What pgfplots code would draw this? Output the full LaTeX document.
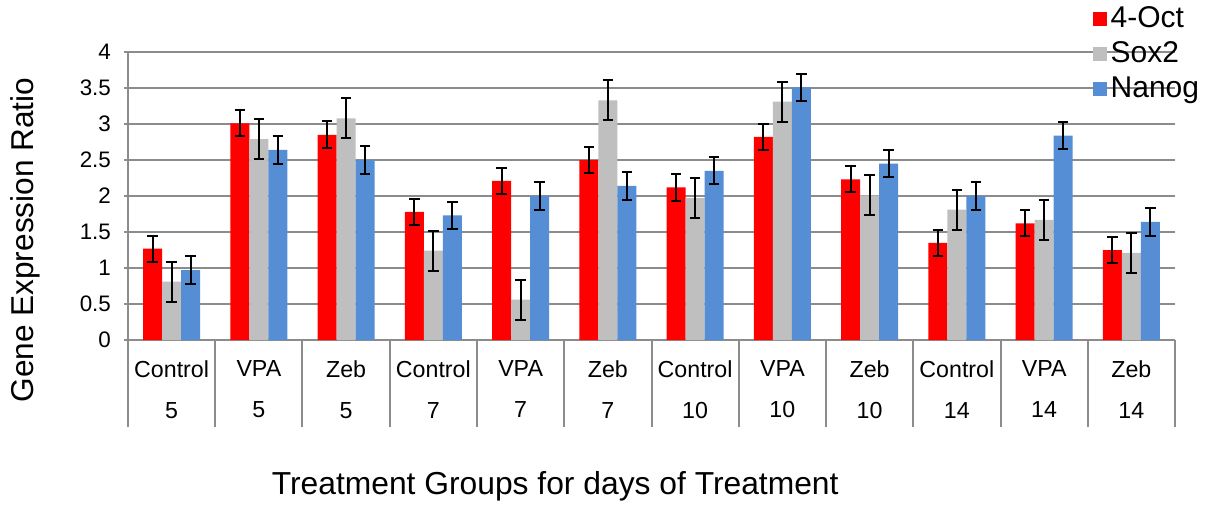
\documentclass[border=0pt]{standalone}
\usepackage{pgfplots}
\pgfplotsset{compat=1.18}
\usepackage{pgfplotstable}
\usepackage{fontspec}
\setmainfont{Liberation Sans}
\definecolor{cred}{HTML}{FF0000}
\definecolor{cgray}{HTML}{BFBFBF}
\definecolor{cblue}{HTML}{558ED5}
\definecolor{cgrid}{HTML}{8C8C8C}
\pgfplotstableread{
x red rede gray graye blue bluee
0 1.27 0.18 0.81 0.28 0.97 0.19
1 3.01 0.18 2.79 0.28 2.64 0.19
2 2.85 0.19 3.08 0.28 2.50 0.19
3 1.78 0.18 1.24 0.28 1.73 0.19
4 2.21 0.18 0.56 0.28 2.00 0.19
5 2.50 0.18 3.33 0.28 2.14 0.19
6 2.12 0.19 1.97 0.28 2.35 0.19
7 2.82 0.18 3.31 0.28 3.51 0.19
8 2.23 0.18 2.01 0.28 2.45 0.19
9 1.35 0.18 1.81 0.28 2.00 0.19
10 1.62 0.18 1.67 0.28 2.84 0.19
11 1.25 0.18 1.21 0.28 1.64 0.19
}\datatable
\begin{document}
\begin{tikzpicture}
\begin{axis}[
  name=ax,
  scale only axis,
  width=523.5pt, height=144pt,
  xmin=-0.5, xmax=11.5, ymin=0, ymax=4,
  ytick={0,0.5,...,4},
  xtick={0,...,11},
  xticklabels={{Control\\5},{VPA\\5},{Zeb\\5},{Control\\7},{VPA\\7},{Zeb\\7},{Control\\10},{VPA\\10},{Zeb\\10},{Control\\14},{VPA\\14},{Zeb\\14}},
  xticklabel style={align=center, font=\fontsize{11.6}{20.5}\selectfont, anchor=north, inner sep=0pt, yshift=-6pt},
  yticklabel style={font=\fontsize{11.2}{13}\selectfont, xshift=-3pt},
  /pgf/number format/assume math mode=true,
  xtick style={draw=none},
  ytick style={draw=cgrid, line width=1pt},
  tick align=outside,
  major tick length=4pt,
  extra x ticks={-0.5,0.5,...,11.5},
  extra x tick labels={},
  extra x tick style={grid=none, major tick length=43.5pt, xtick style={draw=cgrid, line width=1pt}},
  ymajorgrids,
  grid style={cgrid, line width=1pt},
  axis x line=bottom, axis y line=left,
  axis line style={-, cgrid, line width=1pt},
  ylabel={Gene Expression Ratio},
  ylabel style={font=\fontsize{15.8}{18}\selectfont, at={(axis description cs:0,0.347)}, anchor=center, yshift=51.5pt},
  xlabel={Treatment Groups for days of Treatment},
  xlabel style={font=\fontsize{15.9}{18}\selectfont, at={(axis description cs:0.408,0)}, anchor=center, yshift=-73pt},
  bar width=0.218,
  ybar,
  legend style={at={(axis description cs:0.921,1.172)}, anchor=north west, draw=none, fill=none, font=\fontsize{15}{17}\selectfont, row sep=1.6pt, inner sep=0pt},
  legend cell align=left,
  legend image code/.code={\fill[#1] (0pt,-3.5pt) rectangle (7pt,3.5pt);},
  error bars/error bar style={black, line width=1pt},
  error bars/error mark options={black, rotate=90, mark size=2.6pt, line width=1pt},
]
\addplot[fill=cred, draw=none, bar shift=-0.218, error bars/.cd, y dir=both, y explicit] table[x=x, y=red, y error=rede] {\datatable};
\addplot[fill=cgray, draw=none, bar shift=0, error bars/.cd, y dir=both, y explicit] table[x=x, y=gray, y error=graye] {\datatable};
\addplot[fill=cblue, draw=none, bar shift=0.218, error bars/.cd, y dir=both, y explicit] table[x=x, y=blue, y error=bluee] {\datatable};
\legend{4-Oct, Sox2, Nanog}
\end{axis}
\pgfresetboundingbox
\path[use as bounding box] ([shift={(-64pt,-82pt)}]ax.south west) rectangle ([shift={(541pt,170pt)}]ax.south west);
\end{tikzpicture}
\end{document}
